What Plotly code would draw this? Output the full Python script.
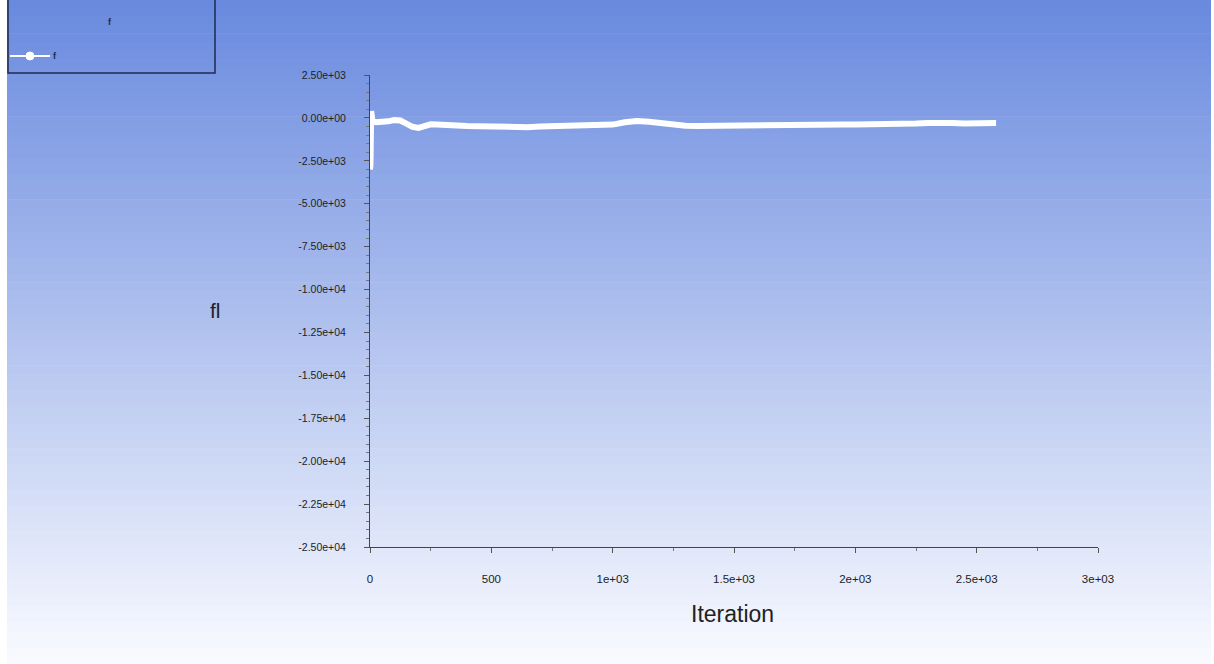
import plotly.graph_objects as go

# ---- data ----
iterations = [0, 2, 5, 10, 25, 50, 75, 100, 125, 150, 175, 200, 225, 250, 275, 300,
              350, 400, 450, 500, 550, 600, 650, 700, 750, 800, 850, 900, 950, 1000,
              1050, 1100, 1150, 1200, 1250, 1300, 1350, 1400, 1450, 1500, 1550, 1600,
              1650, 1700, 1750, 1800, 1850, 1900, 1950, 2000, 2050, 2100, 2150, 2200,
              2250, 2300, 2350, 2400, 2450, 2500, 2550, 2580]
fl_values = [-3000, -2700, 400, -200, -250, -250, -200, -130, -150, -330, -520, -580,
             -450, -370, -390, -420, -450, -470, -480, -500, -550, -570, -540, -500,
             -490, -480, -470, -460, -440, -390, -250, -180, -220, -320, -420, -460,
             -470, -470, -465, -460, -450, -440, -450, -430, -420, -410, -400, -405,
             -390, -380, -385, -400, -385, -360, -330, -300, -270, -290, -320, -300,
             -280, -300]

y_tickvals = [2500, 0, -2500, -5000, -7500, -10000, -12500, -15000, -17500,
              -20000, -22500, -25000]
y_ticktext = ["2.50e+03", "0.00e+00", "-2.50e+03", "-5.00e+03", "-7.50e+03",
              "-1.00e+04", "-1.25e+04", "-1.50e+04", "-1.75e+04", "-2.00e+04",
              "-2.25e+04", "-2.50e+04"]
x_tickvals = [0, 500, 1000, 1500, 2000, 2500, 3000]
x_ticktext = ["0", "500", "1e+03", "1.5e+03", "2e+03", "2.5e+03", "3e+03"]

W, H = 1214, 664
L, R, T, B = 370, 1098, 75, 547  # plot area in pixels


def px(xp):
    return (xp - L) / (R - L)


def py(yp):
    return (B - yp) / (B - T)


fig = go.Figure()
fig.add_trace(go.Scatter(
    x=iterations, y=fl_values, mode="lines",
    line=dict(color="white", width=6), showlegend=False, hoverinfo="skip"))

# ---- gradient background as bands ----
shapes = []
n = 80
top = (104, 137, 222)
bot = (250, 251, 255)
for i in range(n):
    y0p = i * H / n
    y1p = (i + 1) * H / n + 0.6
    t = (i + 0.5) / n
    c = tuple(int(round(top[k] + (bot[k] - top[k]) * t)) for k in range(3))
    shapes.append(dict(type="rect", xref="paper", yref="paper", layer="below",
                       x0=px(7), x1=px(1211), y0=py(y1p), y1=py(y0p),
                       line=dict(width=0), fillcolor="rgb(%d,%d,%d)" % c))

# legend box
shapes.append(dict(type="rect", xref="paper", yref="paper", layer="above",
                   x0=px(8), x1=px(215), y0=py(73), y1=py(-2),
                   line=dict(color="#1e2a50", width=1.5), fillcolor="rgba(0,0,0,0)"))
shapes.append(dict(type="line", xref="paper", yref="paper", layer="above",
                   x0=px(10), x1=px(50), y0=py(56), y1=py(56),
                   line=dict(color="white", width=2)))
shapes.append(dict(type="circle", xref="paper", yref="paper", layer="above",
                   x0=px(26), x1=px(34), y0=py(60), y1=py(52),
                   line=dict(color="white", width=1), fillcolor="white"))

annotations = [
    dict(text="<b>f</b>", xref="paper", yref="paper", x=px(110), y=py(22), showarrow=False,
         xanchor="center", yanchor="middle",
         font=dict(size=9, color="#1e2a50", family="Liberation Sans")),
    dict(text="<b>f</b>", xref="paper", yref="paper", x=px(55), y=py(56), showarrow=False,
         xanchor="center", yanchor="middle",
         font=dict(size=9, color="#1e2a50", family="Liberation Sans")),
    dict(text="Iteration", xref="paper", yref="paper", x=px(732), y=py(614),
         xanchor="center", yanchor="middle",
         showarrow=False, font=dict(size=23, color="#222222", family="Liberation Sans")),
    dict(text="fl", xref="paper", yref="paper", x=px(215), y=py(310),
         xanchor="center", yanchor="middle",
         showarrow=False, font=dict(size=21, color="#222222", family="Liberation Sans")),
]

fig.update_layout(
    width=W, height=H,
    margin=dict(l=L, r=W - R, t=T, b=H - B),
    paper_bgcolor="white", plot_bgcolor="rgba(0,0,0,0)",
    shapes=shapes, annotations=annotations, showlegend=False,
    font=dict(family="Liberation Sans", size=11, color="#222222"),
)
fig.update_xaxes(
    range=[0, 3000], tickvals=x_tickvals, ticktext=x_ticktext,
    showgrid=False, zeroline=False, showline=True, linecolor="#444444", linewidth=1,
    ticks="outside", ticklen=5, tickcolor="#555555", ticklabelstandoff=16,
    minor=dict(dtick=250, ticks="outside", ticklen=3, tickcolor="#777777"),
    tickfont=dict(size=11.5, color="#222222"),
)
fig.update_yaxes(
    range=[-25000, 2500], tickvals=y_tickvals, ticktext=y_ticktext,
    showgrid=False, zeroline=False, showline=True, linecolor="#444444", linewidth=1,
    ticks="outside", ticklen=5, tickcolor="#555555", ticklabelstandoff=16,
    minor=dict(dtick=500, ticks="outside", ticklen=3, tickcolor="#777777"),
    tickfont=dict(size=10.5, color="#222222"),
)

fig.write_html("out.html", config={"displayModeBar": False},
               post_script="document.body.style.margin='0';document.body.style.overflow='hidden';")
